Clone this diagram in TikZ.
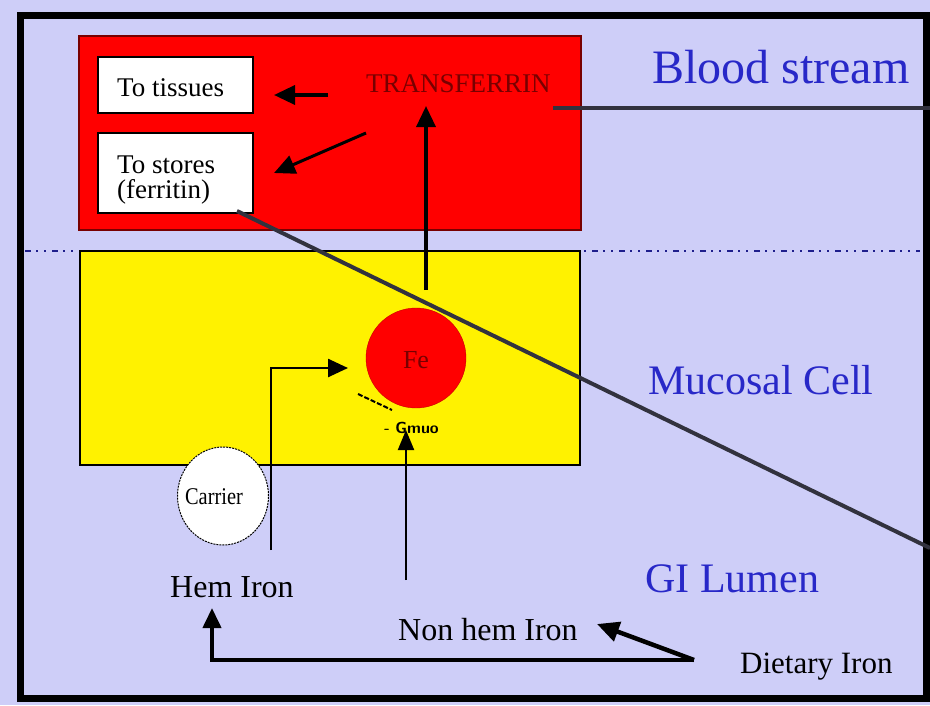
\documentclass[tikz,border=0pt]{standalone}
\usepackage{fontspec}
\setmainfont{Liberation Serif}
\usetikzlibrary{arrows.meta,shapes.geometric}
\definecolor{lav}{RGB}{206,206,248}
\definecolor{dred}{RGB}{120,0,0}
\definecolor{lblue}{RGB}{40,40,200}
\definecolor{gline}{RGB}{50,50,62}
\definecolor{navy}{RGB}{30,30,140}
\tikzset{
  fs/.style={font=\fontsize{#1}{#1}\selectfont},
  blk/.style={text=black, inner sep=0pt},
  blab/.style={text=lblue, inner sep=0pt, anchor=base west},
  arr/.style={-{Triangle[length=21pt,width=19pt]}, line width=3.5pt, black},
  thinarr/.style={-{Triangle[length=20pt,width=16pt]}, line width=2pt, black},
  gray line/.style={line width=4pt, gline},
  whitebox/.style={draw=black, line width=2pt, fill=white}
}
\begin{document}
\begin{tikzpicture}[x=1pt, y=-1pt]
\useasboundingbox (0,0) rectangle (930,705);
\fill[lav] (0,0) rectangle (930,705);
% frame
\draw[line width=7pt, black] (20,15.5) rectangle (926.5,698);
% dotted separator
\draw[navy, line width=2pt, dash pattern=on 6pt off 5pt on 2pt off 6pt on 2pt off 6pt] (25,251) -- (920,251);
% blood stream box
\draw[fill=red, draw=dred, line width=2pt] (79,36) rectangle (581,230);
\draw[whitebox] (98,57) rectangle (253,113);
\draw[whitebox] (98,133) rectangle (253,213);
\node[blk, fs=27, anchor=base west] (tis) at (117,96) {To tissues};
\node[blk, fs=27, anchor=base west] (sto) at (117,173) {To stores};
\node[blk, fs=27, anchor=base west] (fer) at (117,198) {(ferritin)};
\node[inner sep=0pt, text=dred, fs=27, anchor=base west] (trf) at (366,92) {TRANSFERRIN};
% mucosal cell
\draw[fill=yellow, draw=black, line width=2pt] (80,251) rectangle (580,465);
\node[circle, fill=red, draw={rgb,255:red,200;green,0;blue,0}, minimum size=100pt, inner sep=0pt] (fe) at (416,358) {};
\node[inner sep=0pt, text=dred, fs=26] (fetxt) at (416,360) {Fe};
\node[ellipse, fill=white, draw=black, line width=1pt, dash pattern=on 2pt off 1pt, minimum width=91pt, minimum height=98pt, inner sep=0pt] (car) at (223,496) {};
\node[blk, fs=24, xscale=0.85] (cartxt) at (214,497) {Carrier};
\node[blk, font=\fontsize{16}{16}\selectfont\sffamily\bfseries, anchor=base west] (gm) at (384,433) {-\,\,Gmuo};
% labels
\node[blab, fs=48] (bs) at (652,83) {Blood stream};
\node[blab, fs=42] (mc) at (648,394) {Mucosal Cell};
\node[blab, fs=42] (gi) at (645,592) {GI Lumen};
\node[blk, fs=32, anchor=base west] (hem) at (170,597) {Hem Iron};
\node[blk, fs=32, anchor=base west] (non) at (398,640) {Non hem Iron};
\node[blk, fs=31, anchor=base west] (die) at (740,673) {Dietary Iron};
% coordinates
\coordinate (a1s) at (328,95);  \coordinate (a1e) at (274,95);
\coordinate (a2s) at (366,133); \coordinate (a2e) at (274,173);
\coordinate (a3s) at (426,290); \coordinate (a3e) at (426,106);
\coordinate (hs) at (271,550); \coordinate (hc) at (271,368); \coordinate (he) at (348,368);
\coordinate (ns) at (406,580); \coordinate (ne) at (406,430);
\coordinate (ds1) at (358,394); \coordinate (ds2) at (392,410);
\coordinate (dsrc) at (694,660); \coordinate (dcor) at (212,660); \coordinate (dend) at (212,608);
\coordinate (ntip) at (597,624);
\coordinate (g1s) at (553,108); \coordinate (g1e) at (930,108);
\coordinate (g2s) at (237,211); \coordinate (g2e) at (930,548);
% arrows
\draw[arr] (a1s) -- (a1e);
\draw[arr, line width=3pt] (a2s) -- (a2e);
\draw[arr] (a3s) -- (a3e);
\draw[-{Triangle[length=20pt,width=18pt]}, line width=2.5pt] (hs) -- (hc) -- (he);
\draw[thinarr] (ns) -- (ne);
\draw[black, line width=2pt, dash pattern=on 5pt off 2pt] (ds1) -- (ds2);
\draw[-{Triangle[length=20pt,width=18pt]}, line width=4pt] (dsrc) -- (dcor) -- (dend);
\draw[-{Triangle[length=22pt,width=20pt]}, line width=4.5pt] (dsrc) -- (ntip);
% gray long lines
\draw[gray line] (g1s) -- (g1e);
\draw[gray line] (g2s) -- (g2e);
\end{tikzpicture}
\end{document}
